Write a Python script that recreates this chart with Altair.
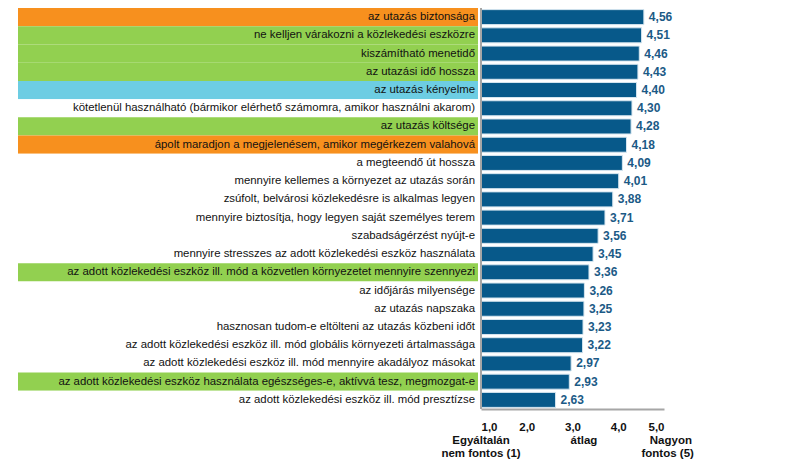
import altair as alt
import pandas as pd

categories = [
    "az utazás biztonsága",
    "ne kelljen várakozni a közlekedési eszközre",
    "kiszámítható menetidő",
    "az utazási idő hossza",
    "az utazás kényelme",
    "kötetlenül használható (bármikor elérhető számomra, amikor használni akarom)",
    "az utazás költsége",
    "ápolt maradjon a megjelenésem, amikor megérkezem valahová",
    "a megteendő út hossza",
    "mennyire kellemes a környezet az utazás során",
    "zsúfolt, belvárosi közlekedésre is alkalmas legyen",
    "mennyire biztosítja, hogy legyen saját személyes terem",
    "szabadságérzést nyújt-e",
    "mennyire stresszes az adott közlekedési eszköz használata",
    "az adott közlekedési eszköz ill. mód a közvetlen környezetet mennyire szennyezi",
    "az időjárás milyensége",
    "az utazás napszaka",
    "hasznosan tudom-e eltölteni az utazás közbeni időt",
    "az adott közlekedési eszköz ill. mód globális környezeti ártalmassága",
    "az adott közlekedési eszköz ill. mód mennyire akadályoz másokat",
    "az adott közlekedési eszköz használata egészséges-e, aktívvá tesz, megmozgat-e",
    "az adott közlekedési eszköz ill. mód presztízse",
]
values = [4.56, 4.51, 4.46, 4.43, 4.40, 4.30, 4.28, 4.18, 4.09, 4.01, 3.88,
          3.71, 3.56, 3.45, 3.36, 3.26, 3.25, 3.23, 3.22, 2.97, 2.93, 2.63]
groups = ["orange", "green", "green", "green", "cyan", "none", "green", "orange",
          "none", "none", "none", "none", "none", "none", "green", "none",
          "none", "none", "none", "none", "green", "none"]

group_names = ["orange", "green", "cyan", "none"]
group_colors = ["#f7901e", "#92d050", "#6dcde3", "#ffffff"]

ticks = [1, 2, 3, 4, 5]
bottom_notes = [
    {"x": 1.0, "line": 0, "t": "Egyáltalán"},
    {"x": 1.0, "line": 1, "t": "nem fontos (1)"},
    {"x": 3.25, "line": 0, "t": "átlag"},
    {"x": 5.15, "line": 0, "t": "Nagyon"},
    {"x": 5.08, "line": 1, "t": "fontos (5)"},
]

df = pd.DataFrame({"cat": categories, "val": values, "grp": groups})
df["lab"] = [f"{v:.2f}".replace(".", ",") for v in values]
notes = pd.DataFrame(bottom_notes)

FONT = "Liberation Sans"
W, H = 644, 401
xscale = alt.Scale(domain=[1, 5], range=[463, 646], zero=False)
yenc = alt.Y("cat:N", sort=categories, axis=None,
             scale=alt.Scale(paddingInner=0, paddingOuter=0))

base = alt.Chart(df)

bg = base.mark_rect().encode(
    y=yenc,
    x=alt.value(0),
    x2=alt.value(460),
    color=alt.Color("grp:N", scale=alt.Scale(domain=group_names, range=group_colors), legend=None),
)

labels = base.mark_text(align="right", baseline="middle", font=FONT, fontSize=11.4, color="#111111").encode(
    y=yenc,
    x=alt.value(457),
    text="cat:N",
)

bars = base.mark_bar(size=15, color="#07598a", stroke="#d6e6f0", strokeWidth=1).encode(
    y=yenc,
    x=alt.X("val:Q", scale=xscale,
            axis=alt.Axis(values=ticks, title=None, grid=False, ticks=False,
                          domainColor="#a6a6a6", domainWidth=2,
                          labelExpr="replace(format(datum.value,'.1f'),'.',',')",
                          labelFont=FONT, labelFontSize=11.5, labelFontWeight="bold",
                          labelColor="#111111", labelPadding=12)),
    x2=alt.datum(1),
)

vals = base.mark_text(align="left", baseline="middle", dx=5, font=FONT, fontSize=12,
                      fontWeight="bold", color="#1b5a86").encode(
    y=yenc,
    x=alt.X("val:Q", scale=xscale),
    text="lab:N",
)

vline = alt.Chart(df).mark_rule(color="#a6a6a6", strokeWidth=2).encode(
    x=alt.datum(1),
    y=alt.value(0),
    y2=alt.value(H),
)

note0 = alt.Chart(notes).transform_filter("datum.line == 0").mark_text(
    align="center", baseline="middle", font=FONT, fontSize=11.5, fontWeight="bold", color="#111111"
).encode(x=alt.X("x:Q", scale=xscale), y=alt.value(H + 32), text="t:N")

note1 = alt.Chart(notes).transform_filter("datum.line == 1").mark_text(
    align="center", baseline="middle", font=FONT, fontSize=11.5, fontWeight="bold", color="#111111"
).encode(x=alt.X("x:Q", scale=xscale), y=alt.value(H + 45), text="t:N")

chart = alt.layer(bg, labels, bars, vals, vline, note0, note1).properties(
    width=W, height=H,
    autosize=alt.AutoSizeParams(type="none"),
    padding={"left": 18, "top": 8, "right": 147, "bottom": 56},
).configure_view(stroke=None)

chart.save("out.html", embed_options={"renderer": "svg", "actions": False})
